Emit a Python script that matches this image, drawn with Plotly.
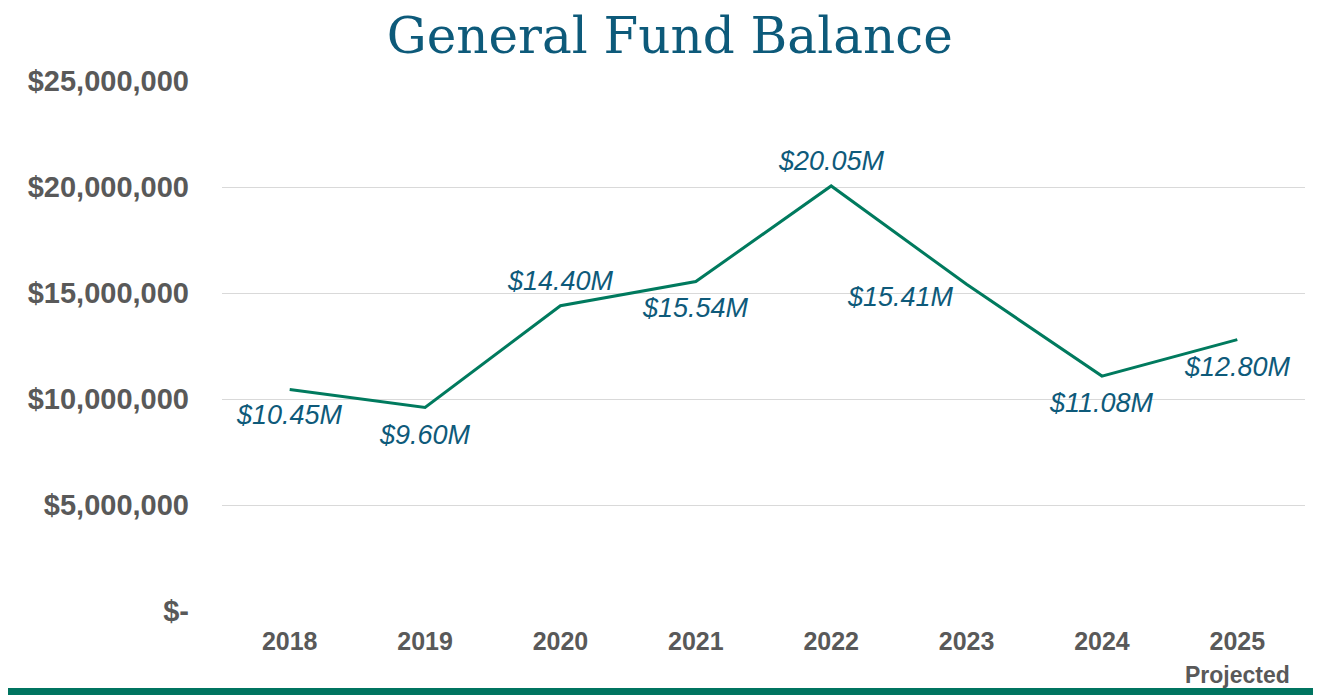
import plotly.graph_objects as go

years = ['2018', '2019', '2020', '2021', '2022', '2023', '2024', '2025']
year_labels = ['2018', '2019', '2020', '2021', '2022', '2023', '2024',
               '2025<br><span style="font-size:23px">Projected</span>']
balance_m = [10.45, 9.60, 14.40, 15.54, 20.05, 15.41, 11.08, 12.80]
balance = [v * 1_000_000 for v in balance_m]
point_labels = [f'${v:.2f}M' for v in balance_m]

y_ticks = [0, 5_000_000, 10_000_000, 15_000_000, 20_000_000, 25_000_000]
y_tick_text = ['$-', '$5,000,000', '$10,000,000', '$15,000,000', '$20,000,000', '$25,000,000']

# label offsets (px) relative to each point
label_dx = [0, 0, 0, 0, 0, -66, 0, 0]
label_dy = [-26, -28, 25, -26, 25, -13, -27, -27]

fig = go.Figure()
fig.add_trace(go.Scatter(
    x=years,
    y=balance,
    mode='lines',
    line=dict(color='#007a5e', width=3),
    hoverinfo='skip'
))

# category axis -> annotations use the category index
for i, (y, t) in enumerate(zip(balance, point_labels)):
    fig.add_annotation(x=i, y=y, text=t, showarrow=False,
                       xshift=label_dx[i], yshift=label_dy[i],
                       font=dict(family='Liberation Sans, Arial', size=27,
                                 color='#0e5a7a', style='italic'))

fig.update_layout(
    width=1313, height=687,
    paper_bgcolor='white', plot_bgcolor='white',
    showlegend=False,
    margin=dict(l=214, r=16, t=73, b=84, autoexpand=False),
    title=dict(text='General Fund Balance', x=0.504, xanchor='center',
               y=0.96, yanchor='middle',
               font=dict(family='DejaVu Serif', size=50, color='#0d5a7a')),
    xaxis=dict(
        type='category',
        range=[-0.5, 7.5],
        tickmode='array', tickvals=years, ticktext=year_labels,
        showgrid=False, zeroline=False, showline=False, ticks='',
        tickangle=0, ticklabelstandoff=13,
        tickfont=dict(family='Liberation Sans, Arial', size=25, color='#595959', weight='bold')
    ),
    yaxis=dict(
        range=[0, 25_000_000],
        tickmode='array', tickvals=y_ticks, ticktext=y_tick_text,
        showgrid=True, gridcolor='#d9d9d9', gridwidth=1,
        zeroline=False, showline=False, ticks='', ticklabelstandoff=32,
        tickfont=dict(family='Liberation Sans, Arial', size=29, color='#595959', weight='bold')
    ),
    shapes=[
        dict(type='rect', xref='paper', yref='paper', x0=-0.21, x1=1.02, y0=-0.17, y1=-0.1453,
             fillcolor='#007460', line_width=0),
    ]
)

fig.write_html('out.html')
